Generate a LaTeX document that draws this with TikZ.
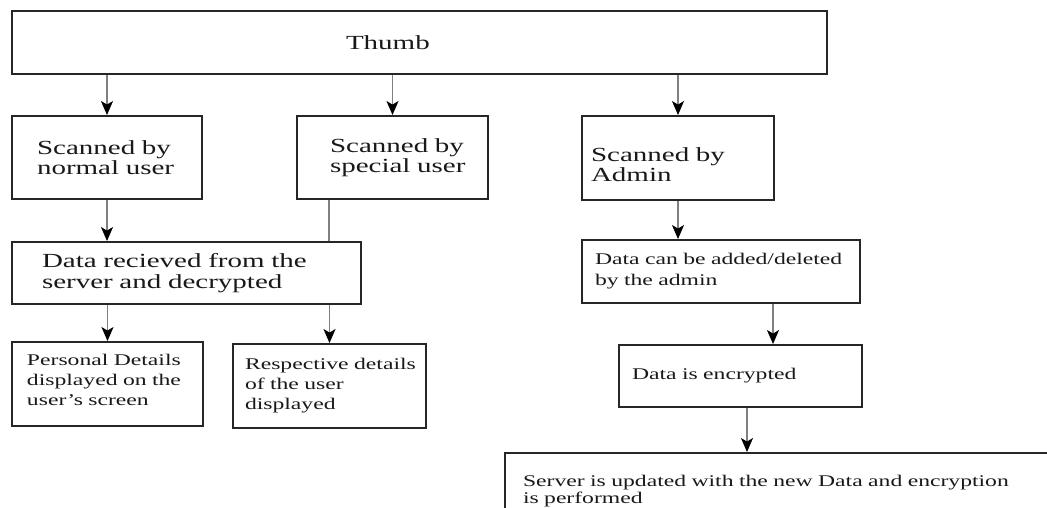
\documentclass[tikz,border=0pt]{standalone}
\usepackage{fontspec}
\setmainfont{Liberation Serif}[FakeStretch=1.45]
\usepackage{tikz}
\usetikzlibrary{arrows.meta}
\newcommand{\boxcolor}{black!85}
\newcommand{\linecolor}{black!50}
\newcommand{\bigtext}{\fontsize{20}{20}\selectfont}
\newcommand{\smalltext}{\fontsize{16.3}{20}\selectfont}

\tikzset{
  flowbox/.style={draw=\boxcolor, line width=1.9pt, fill=white, text=black!90, align=left, inner ysep=0pt,
    execute at begin node={\hyphenpenalty=10000\exhyphenpenalty=10000}},
  flowarrow/.style={draw=\linecolor, line width=1.5pt, -{Stealth[length=14pt, width=12pt, inset=3.5pt, black]}},
  flowline/.style={draw=\linecolor, line width=1.5pt}
}

\begin{document}
\begin{tikzpicture}[x=1pt, y=-1pt]
\useasboundingbox (0,0) rectangle (1047,508);
\clip (0,0) rectangle (1047,508);
%top
\node[flowbox, minimum width=815pt, minimum height=63pt, text width=147pt, inner xsep=334pt, font=\bigtext] (thumb) at (419.5, 42.5) {Thumb};
%scanned
\node[flowbox, minimum width=190pt, minimum height=83pt, text width=140pt, inner xsep=25pt, font=\bigtext] (normal) at (107, 157.5) {Scanned~by\\normal~user};
\node[flowbox, minimum width=191pt, minimum height=83pt, text width=125pt, inner xsep=33pt, font=\bigtext] (special) at (392.5, 157.5) {Scanned~by\\special~user};
\node[flowbox, minimum width=192pt, minimum height=84pt, text width=174pt, inner xsep=9pt, text depth=6pt, font=\bigtext] (admin) at (678, 158) {Scanned by\\Admin};
%users
\node[flowbox, minimum width=349pt, minimum height=62pt, text width=289pt, inner xsep=30pt, font=\fontsize{20}{21}\selectfont] (received) at (186.5, 273) {Data recieved from the\\server and decrypted};
\node[flowbox, minimum width=191pt, minimum height=84pt, text width=161pt, inner xsep=15pt, text depth=49pt, font=\smalltext] (personal) at (107.5, 384) {Personal Details\\displayed on the\\user's screen};
\node[flowbox, minimum width=193pt, minimum height=84pt, text width=169pt, inner xsep=12pt, font=\smalltext] (respective) at (329.5, 386) {Respective~details\\of the user\\displayed};
%admin
\node[flowbox, minimum width=278pt, minimum height=63pt, text width=252pt, inner xsep=13pt, font=\fontsize{16.3}{21}\selectfont] (added) at (721, 271.5) {Data~can~be~added/deleted\\by the admin};
\node[flowbox, minimum width=243pt, minimum height=62pt, text width=217pt, inner xsep=13pt, font=\smalltext] (encrypted) at (740.5, 376) {Data is encrypted};
\node[flowbox, minimum width=555pt, minimum height=75.3pt, text width=519pt, inner xsep=18pt, font=\fontsize{16.3}{17}\selectfont] (server) at (782.5, 490.65) {Server is updated with the new Data and encryption\\is performed};
%arrows
\draw[flowarrow] (thumb.south -| normal.north) -- (normal.north);
\draw[flowarrow] (thumb.south -| special.north) -- (special.north);
\draw[flowarrow] (thumb.south -| admin.north) -- (admin.north);
\draw[flowarrow] (normal.south) -- (normal.south |- received.north);
\draw[flowline] ([xshift=-63.5pt]special.south) -- ([xshift=-63.5pt]special.south |- received.north);
\draw[flowarrow] (received.south -| personal.north) -- (personal.north);
\draw[flowarrow] (received.south -| respective.north) -- (respective.north);
\draw[flowarrow] (admin.south) -- (admin.south |- added.north);
\draw[flowarrow] ([xshift=52pt]added.south) -- ([xshift=52pt]added.south |- encrypted.north);
\draw[flowarrow] ([xshift=6.5pt]encrypted.south) -- ([xshift=6.5pt]encrypted.south |- server.north);
\end{tikzpicture}
\end{document}
